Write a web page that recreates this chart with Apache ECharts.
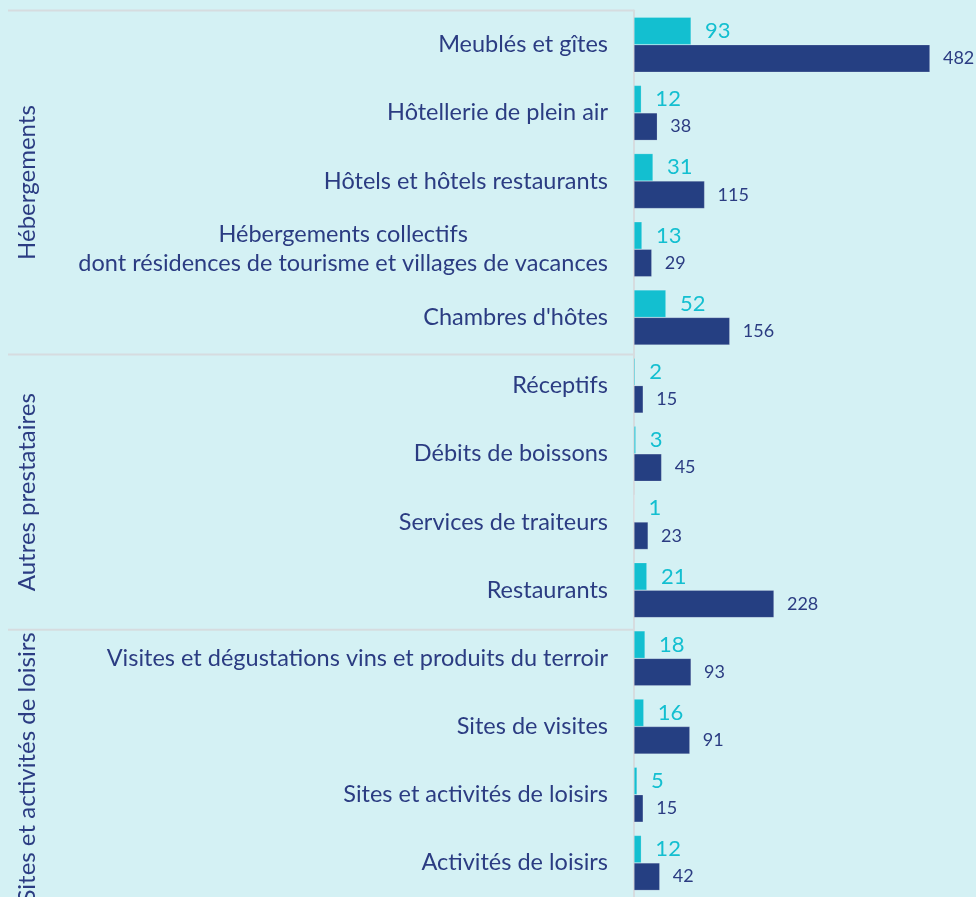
<!DOCTYPE html>
<html>
<head>
<meta charset="utf-8">
<script src="https://cdn.jsdelivr.net/npm/echarts@6/dist/echarts.min.js"></script>
<style>
  html, body { margin: 0; padding: 0; background: #d4f1f4; }
  #chart { width: 976px; height: 897px; }
</style>
</head>
<body>
<div id="chart"></div>
<script>
// categories, top to bottom
const categories = [
  'Meublés et gîtes',
  'Hôtellerie de plein air',
  'Hôtels et hôtels restaurants',
  'Hébergements collectifs\ndont résidences de tourisme et villages de vacances',
  "Chambres d'hôtes",
  'Réceptifs',
  'Débits de boissons',
  'Services de traiteurs',
  'Restaurants',
  'Visites et dégustations vins et produits du terroir',
  'Sites de visites',
  'Sites et activités de loisirs',
  'Activités de loisirs'
]
const valuesLight = [93, 12, 31, 13, 52, 2, 3, 1, 21, 18, 16, 5, 12]
const valuesDark = [482, 38, 115, 29, 156, 15, 45, 23, 228, 93, 91, 15, 42]
const groupNames = ['Hébergements', 'Autres prestataires', 'Sites et activités de loisirs']
const groupSizes = [5, 4, 4]

const colors = ['#13bfd0', '#253f82']
const textColor = '#2b3c82'
const lineColor = '#d6dcdf'
const font = 'Lato, "Open Sans", sans-serif'

// layout
const gridTop = 10.6
const slot = 68.8
const axisX = 634

let chartDom = document.getElementById('chart')
let myChart = echarts.init(chartDom)
let option

// separator lines and group titles on the left
const graphics = []
let start = 0
groupSizes.forEach((n, i) => {
  const y0 = gridTop + start * slot
  graphics.push({
    type: 'line',
    shape: { x1: 8, y1: y0, x2: axisX, y2: y0 },
    style: { stroke: lineColor, lineWidth: 2 },
    silent: true
  })
  graphics.push({
    type: 'text',
    x: 27,
    y: gridTop + (start + n / 2) * slot,
    rotation: Math.PI / 2,
    style: {
      text: groupNames[i],
      fill: textColor,
      font: '24px ' + font,
      textAlign: 'center',
      textVerticalAlign: 'middle'
    },
    silent: true
  })
  start += n
})

option = {
  backgroundColor: '#d4f1f4',
  animation: false,
  grid: {
    left: axisX,
    right: 0,
    top: gridTop,
    height: slot * categories.length
  },
  xAxis: {
    type: 'value',
    min: 0,
    max: 557,
    show: false
  },
  yAxis: {
    type: 'category',
    inverse: true,
    data: categories,
    axisLine: { show: true, lineStyle: { color: lineColor, width: 2 } },
    axisTick: { show: false },
    splitLine: { show: false },
    axisLabel: {
      margin: 26,
      color: textColor,
      fontFamily: font,
      fontSize: 23.5,
      lineHeight: 29,
      formatter: function (v) {
        if (v.indexOf('\n') < 0) return v
        return v.split('\n').map(s => '{c|' + s + '}').join('\n')
      },
      rich: {
        c: { align: 'center', color: textColor, fontFamily: font, fontSize: 23.5, lineHeight: 29 }
      }
    }
  },
  series: [
    {
      name: 'Série 1',
      type: 'bar',
      data: valuesLight,
      barWidth: 27.5,
      barGap: '0%',
      itemStyle: { color: colors[0], borderColor: 'rgba(255,255,255,0.3)', borderWidth: 0.6 },
      label: {
        show: true,
        position: 'right',
        distance: 14,
        color: colors[0],
        fontFamily: font,
        fontSize: 22
      }
    },
    {
      name: 'Série 2',
      type: 'bar',
      data: valuesDark,
      barWidth: 27.5,
      barGap: '0%',
      itemStyle: { color: colors[1], borderColor: 'rgba(255,255,255,0.3)', borderWidth: 0.6 },
      label: {
        show: true,
        position: 'right',
        distance: 13,
        color: textColor,
        fontFamily: font,
        fontSize: 18
      }
    }
  ],
  graphic: graphics
}
option && myChart.setOption(option)
</script>
</body>
</html>
